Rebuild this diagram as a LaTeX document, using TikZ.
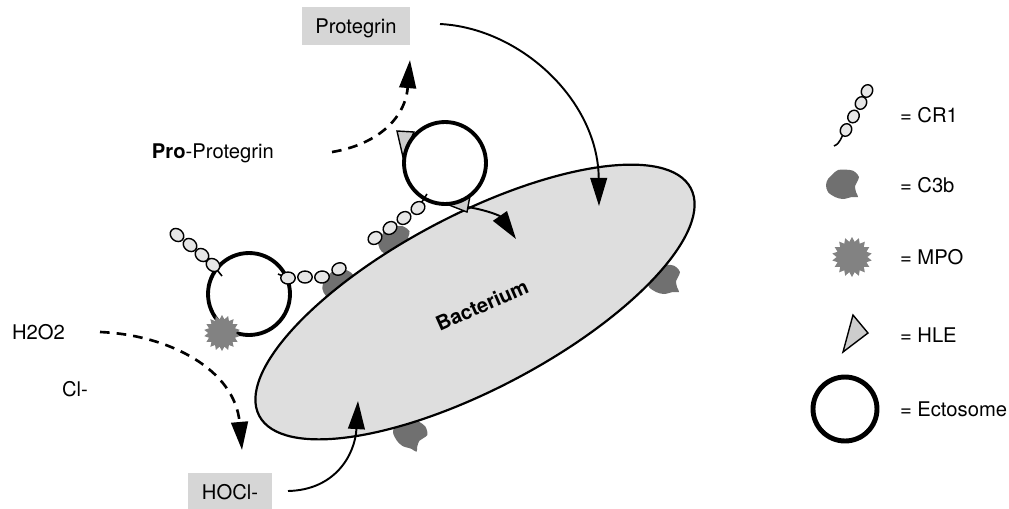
\documentclass[tikz,border=0pt]{standalone}
\usepackage{fontspec}
\setmainfont{TeX Gyre Heros}
\usetikzlibrary{arrows.meta,shapes.geometric}

\definecolor{bactgray}{RGB}{222,222,222}
\definecolor{boxgray}{RGB}{214,214,214}
\definecolor{cthreegray}{RGB}{112,112,112}
\definecolor{mpogray}{RGB}{130,130,130}
\definecolor{hlegray}{RGB}{205,205,205}
\definecolor{beadgray}{RGB}{230,230,230}

\tikzset{
  pics/cthreeb/.style={code={
    \fill[cthreegray] plot[smooth cycle, tension=0.55] coordinates
      {(-11,-9) (-5,-14) (7,-14) (12,-12) (16,-7) (14,-2) (12,2) (13,8)
       (15,13) (9,13) (0,15) (-8,13) (-15,8) (-17,1) (-15,-5)};
  }},
}

\begin{document}
\begin{tikzpicture}[x=0.02cm, y=-0.02cm,
  font=\fontsize{11.5}{13}\selectfont,
  every node/.style={inner sep=0pt, outer sep=0pt},
  txt/.style={text depth=0pt},
  graybox/.style={fill=boxgray, text depth=0pt},
  bead/.style={ellipse, draw, fill=beadgray, line width=0.8pt,
    minimum width=0.29cm, minimum height=0.24cm},
  lbead/.style={bead, minimum width=0.26cm, minimum height=0.22cm},
  stem/.style={line width=0.9pt},
  ecto/.style={circle, draw, fill=white, line width=2.2pt, minimum size=1.64cm},
  mpo/.style={star, star points=18, star point ratio=1.3, fill=mpogray},
  hle/.style={draw, fill=hlegray, line width=0.8pt, line join=miter},
  tip/.style={-{Triangle[length=16pt, width=9.5pt]}},
  solidarrow/.style={tip, line width=1.1pt},
  dasharrow/.style={tip, line width=1.5pt, dash pattern=on 5.5pt off 4pt},
]
\useasboundingbox (0,0) rectangle (1009,508);

% C3b molecules bound to the bacterial surface (partly covered by the cell)
\pic at (664,279) {cthreeb};
\pic[rotate=-30] at (410,433) {cthreeb};
\pic[rotate=10] at (395,241) {cthreeb};
\pic[rotate=10] at (339,285) {cthreeb};

% the bacterium
\node[ellipse, draw, fill=bactgray, line width=1.25pt,
  minimum width=9.76cm, minimum height=3.48cm, rotate=27.8] (bact) at (475,302) {};
\node[font=\fontsize{11.5}{13}\selectfont\bfseries, rotate=24] (blabel) at (482,305) {Bacterium};

% HLE on the upper ectosome
\path[hle] (397,131) -- (414,132) -- (403,157) -- cycle;
\path[hle] (449,205) -- (470,196) -- (467,212) -- cycle;

% ectosomes
\node[ecto] (ectoU) at (445,163) {};
\node[ecto] (ectoL) at (249,294) {};

% CR1 chains with their stems into the ectosome membrane
\draw[stem] (213,265) -- (222,276);
\draw[stem] (288,278) -- (278,274);
\draw[stem] (418,208) -- (427,194);
\foreach \x/\y [count=\i] in {177/235, 190/245, 202/255, 213/265}
  \node[bead, rotate=-40] (cl\i) at (\x,\y) {};
\foreach \x/\y/\a [count=\i] in {288/278/0, 305/277/0, 322/277/5, 339/269/25}
  \node[bead, rotate=\a] (cr\i) at (\x,\y) {};
\foreach \x/\y [count=\i] in {375/238, 390/228, 404/218, 418/208}
  \node[bead, rotate=35] (cu\i) at (\x,\y) {};

% MPO on the lower ectosome
\node[mpo, minimum size=0.72cm] (mpoA) at (222,333) {};

% texts and product boxes
\node[graybox, minimum width=2.16cm, minimum height=0.76cm] (prot) at (356,26) {Protegrin};
\node[graybox, minimum width=1.68cm, minimum height=0.74cm] (hocl) at (230,491.5) {HOCl-};
\node[txt, anchor=west] (pro) at (152,151) {\textbf{Pro}-Protegrin};
\node[txt, anchor=west] (htwo) at (12,332) {H2O2};
\node[txt, anchor=west] (cl) at (62,389) {Cl-};

% arrow end points
\coordinate (protout) at (440,24);
\coordinate (protin) at (599,206);
\coordinate (prostart) at (332,152);
\coordinate (proend) at (410,60);
\coordinate (hstart) at (100,332);
\coordinate (hend) at (242,450);
\coordinate (hocout) at (288,491);
\coordinate (hocin) at (358,401);
\coordinate (hleout) at (468,207);
\coordinate (hlein) at (516,239);

% reactions
\draw[dasharrow] (prostart) .. controls (375,145) and (405,120) .. (proend);
\draw[solidarrow] (protout) .. controls (520,28) and (598,100) .. (protin);
\draw[dasharrow] (hstart) .. controls (170,335) and (235,370) .. (hend);
\draw[solidarrow] (hocout) .. controls (335,490) and (355,455) .. (hocin);
\draw[solidarrow] (hleout) .. controls (490,211) and (500,216) .. (hlein);

% legend
\draw[stem] (846,130) .. controls (840,138) and (841,143) .. (834,146);
\foreach \x/\y [count=\i] in {867/91, 861/103, 853.5/116.5, 846/130}
  \node[lbead, rotate=62] (lg\i) at (\x,\y) {};
\pic at (843,184) {cthreeb};
\node[mpo, minimum size=0.8cm] (mpoB) at (852,257) {};
\path[hle] (843,352) -- (853,315) -- (868,333) -- cycle;
\node[ecto, minimum size=1.28cm, line width=2.8pt] (ectoK) at (845,409) {};

\node[txt, anchor=west] (kcr) at (900,115) {= CR1};
\node[txt, anchor=west] (kc3) at (900,185) {= C3b};
\node[txt, anchor=west] (kmp) at (900,257) {= MPO};
\node[txt, anchor=west] (khl) at (900,335) {= HLE};
\node[txt, anchor=west] (kec) at (900,409) {= Ectosome};
\end{tikzpicture}
\end{document}
